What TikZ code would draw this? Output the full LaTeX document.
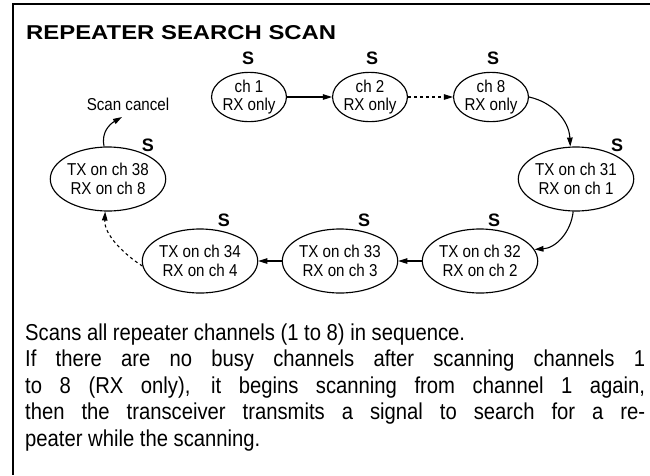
\documentclass[tikz,border=0pt]{standalone}
\usepackage{fontspec}
\setmainfont{Liberation Sans}
\newfontfamily\narrowsans[FakeStretch=0.88]{Liberation Sans}
\newfontfamily\bodysans[FakeStretch=0.88]{Liberation Sans}
\usetikzlibrary{arrows.meta,shapes.geometric}
\begin{document}
\begin{tikzpicture}[x=1pt,y=-1pt,
  state/.style={draw, ellipse, line width=1.15pt, inner sep=0pt, align=center,
    font=\narrowsans\fontsize{17.2}{18.8}\selectfont},
  rxbox/.style={state, minimum width=72pt, minimum height=40pt},
  txbox/.style={state, minimum width=106pt, minimum height=64pt},
  slabel/.style={anchor=base, inner sep=0pt, font=\fontsize{18}{18}\selectfont\bfseries},
  flow/.style={line width=1.1pt, -{Triangle[length=9pt,width=5.5pt]}},
  dashflow/.style={flow, dash pattern=on 3pt off 3pt},
  frameline/.style={line width=1.8pt},
  body/.style={anchor=base west, inner sep=0pt, font=\bodysans\fontsize{23}{26}\selectfont}
]
\useasboundingbox (0,0) rectangle (650,475);
% frame (top and left edges only)
\coordinate (ftr) at (650,4);
\coordinate (ftl) at (13,4);
\coordinate (fbl) at (13,475);
\draw[frameline] (ftr) -- (ftl) -- (fbl);
% title
\node[anchor=base west, inner sep=0pt] (title) at (26,39)
  {\resizebox{310pt}{14pt}{\bfseries REPEATER SEARCH SCAN}};
% states
\node[rxbox] (c1) at (249,97) {ch 1\\RX only};
\node[rxbox] (c2) at (370,97) {ch 2\\RX only};
\node[rxbox] (c8) at (491,97) {ch 8\\RX only};
\node[txbox] (t31) at (576,179) {TX on ch 31\\RX on ch 1};
\node[txbox] (t32) at (480,261) {TX on ch 32\\RX on ch 2};
\node[txbox] (t33) at (340,261) {TX on ch 33\\RX on ch 3};
\node[txbox] (t34) at (200,261) {TX on ch 34\\RX on ch 4};
\node[txbox] (t38) at (108,179) {TX on ch 38\\RX on ch 8};
% S labels
\node[slabel] (s1) at (248,64) {S};
\node[slabel] (s2) at (372,64) {S};
\node[slabel] (s8) at (493,64) {S};
\node[slabel] (s31) at (617,151) {S};
\node[slabel] (s32) at (494,226) {S};
\node[slabel] (s33) at (364,226) {S};
\node[slabel] (s34) at (224,226) {S};
\node[slabel] (s38) at (148,151) {S};
% scan cancel
\node[inner sep=0pt, font=\narrowsans\fontsize{17.2}{18}\selectfont] (cancel) at (128,104) {Scan cancel};
\coordinate (sc) at (122,117);
% connectors
\draw[flow] (c1) -- (c2);
\draw[dashflow] (c2) -- (c8);
\draw[flow] (c8.east) .. controls (552,102) and (569,120) .. (t31.100);
\draw[flow] (t31.265) .. controls (571,232) and (556,248) .. (t32.12);
\draw[flow] (t32) -- (t33);
\draw[flow] (t33) -- (t34);
\draw[dashflow] (t34.185) .. controls (125,255) and (104,235) .. (t38.265);
\draw[flow] (t38.97) .. controls (101,132) and (110,124) .. (sc);
% body text
\node[body] (l1) at (25,340) {Scans all repeater channels (1 to 8) in sequence.};
\node[body] (l2) at (25,366) {\makebox[620pt][s]{If there are no busy channels after scanning channels 1}};
\node[body] (l3) at (25,393) {\makebox[620pt][s]{to 8 (RX only), it begins scanning from channel 1 again,}};
\node[body] (l4) at (25,419) {\makebox[620pt][s]{then the transceiver transmits a signal to search for a re-}};
\node[body] (l5) at (25,446) {peater while the scanning.};
\end{tikzpicture}
\end{document}
